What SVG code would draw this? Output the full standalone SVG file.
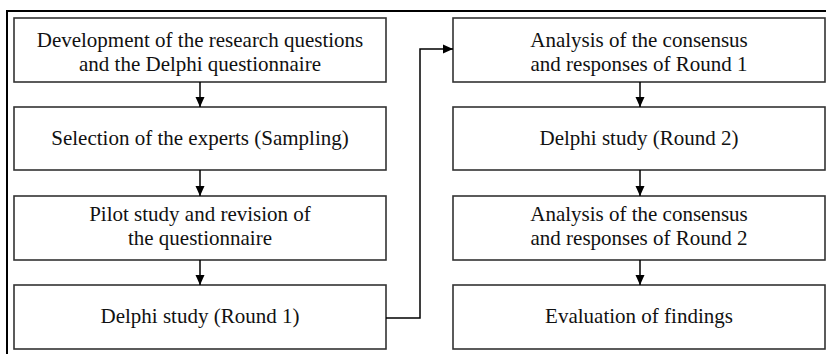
<svg xmlns="http://www.w3.org/2000/svg" width="826" height="354" viewBox="0 0 826 354">
<style>
.box{fill:#fff;stroke:#333;stroke-width:1.6}
.t{font-family:"Liberation Serif","Times New Roman",serif;font-size:21px;fill:#111;text-anchor:middle}
.c{fill:none;stroke:#000;stroke-width:1.5}
</style>
<defs>
<marker id="ah" viewBox="0 0 10 10" refX="10" refY="5" markerWidth="10" markerHeight="10" markerUnits="userSpaceOnUse" orient="auto">
<path d="M0,0.5 L10,5 L0,9.5 z" fill="#000"/>
</marker>
</defs>
<rect width="826" height="354" fill="#fff"/>
<path d="M7,354 V11 H826" fill="none" stroke="#000" stroke-width="2"/>
<g id="n1"><rect class="box" x="14" y="18" width="372" height="64"/><text class="t" x="200" y="47">Development of the research questions</text><text class="t" x="200" y="71">and the Delphi questionnaire</text></g>
<g id="n2"><rect class="box" x="14" y="107" width="372" height="63"/><text class="t" x="200" y="145">Selection of the experts (Sampling)</text></g>
<g id="n3"><rect class="box" x="14" y="196" width="372" height="64"/><text class="t" x="200" y="221">Pilot study and revision of</text><text class="t" x="200" y="245">the questionnaire</text></g>
<g id="n4"><rect class="box" x="14" y="285" width="372" height="64"/><text class="t" x="200" y="323">Delphi study (Round 1)</text></g>
<g id="n5"><rect class="box" x="453" y="18" width="372" height="64"/><text class="t" x="639" y="47">Analysis of the consensus</text><text class="t" x="639" y="71">and responses of Round 1</text></g>
<g id="n6"><rect class="box" x="453" y="107" width="372" height="63"/><text class="t" x="639" y="145">Delphi study (Round 2)</text></g>
<g id="n7"><rect class="box" x="453" y="196" width="372" height="64"/><text class="t" x="639" y="221">Analysis of the consensus</text><text class="t" x="639" y="245">and responses of Round 2</text></g>
<g id="n8"><rect class="box" x="453" y="285" width="372" height="64"/><text class="t" x="639" y="323">Evaluation of findings</text></g>
<g id="connectors">
<path class="c" d="M200,82 V107" marker-end="url(#ah)"/>
<path class="c" d="M200,170 V196" marker-end="url(#ah)"/>
<path class="c" d="M200,260 V285" marker-end="url(#ah)"/>
<path class="c" d="M386,318 H420 V49 H453" marker-end="url(#ah)"/>
<path class="c" d="M640,82 V107" marker-end="url(#ah)"/>
<path class="c" d="M640,170 V196" marker-end="url(#ah)"/>
<path class="c" d="M640,260 V285" marker-end="url(#ah)"/>
</g>
</svg>
